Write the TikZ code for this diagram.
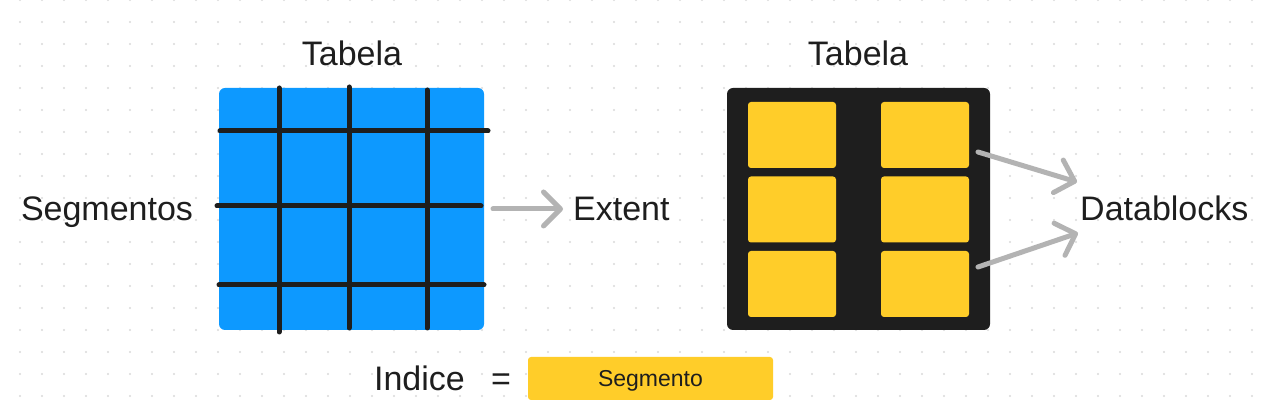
\documentclass[tikz,border=0pt]{standalone}
\usepackage{fontspec}
\setmainfont{Liberation Sans}
\usepackage{tikz}
\usetikzlibrary{arrows.meta}
\definecolor{inkdark}{HTML}{1E1E1E}
\definecolor{gridblue}{HTML}{0D99FF}
\definecolor{blockyellow}{HTML}{FFCD29}
\definecolor{arrowgray}{HTML}{B3B3B3}
\definecolor{dotgray}{HTML}{DADADA}
\tikzset{
	label/.style={inkdark,inner sep=0pt,anchor=base,font=\fontsize{34}{34}\selectfont},
	block/.style={fill=blockyellow,rounded corners=3pt,inner sep=0pt,minimum width=88pt,minimum height=66pt},
	gridline/.style={draw=inkdark,line width=5pt,line cap=round},
	flow/.style={draw=arrowgray,line width=5pt,line cap=round,
		-{Straight Barb[length=17pt,width=34pt,line cap=round,line join=round]}}
}

\begin{document}
\begin{tikzpicture}[x=1pt,y=-1pt]
	\useasboundingbox[fill=white] (0,0) rectangle (1262,411);
	\foreach \i in {0,...,56}
		\foreach \j in {0,...,18}
			\fill[dotgray] (20+22*\i,22*\j) circle (1.1pt);

	\node[fill=gridblue,rounded corners=6pt,inner sep=0pt,minimum width=265pt,minimum height=242pt] (tabela1) at (351.5,209) {};
	\node[fill=inkdark,rounded corners=6pt,inner sep=0pt,minimum width=263pt,minimum height=242pt] (tabela2) at (858.5,209) {};

	\begin{scope}[gridline]
		\draw (279,88) -- (279,332);
		\draw (349,87) -- (349,328);
		\draw (427,90) -- (427,328);
		\draw (220,131) -- (488,131);
		\draw (217,206) -- (481,206);
		\draw (219,285) -- (484,285);
	\end{scope}

	\foreach \col/\x in {a/792,b/925}
		\foreach \row/\y in {1/135,2/209.5,3/284}
			\node[block] (\col\row) at (\x,\y) {};

	\node[label] (titulo1) at (352,66) {Tabela};
	\node[label] (titulo2) at (858,66) {Tabela};
	\node[label] (segmentos) at (107,221) {Segmentos};
	\node[label,anchor=base west] (extent) at (573,220.5) {Extent};
	\node[label,anchor=base west] (datablocks) at (1080,220.5) {Datablocks};
	\node[label] (indice) at (419.5,390.5) {Indice};
	\node[label] (igual) at (501,390.5) {=};
	\node[fill=blockyellow,rounded corners=3pt,inner sep=0pt,minimum width=245pt,minimum height=43pt] (segmento) at (650.5,378.5) {};
	\node[label,font=\fontsize{23}{23}\selectfont] (segtexto) at (650.5,386.5) {Segmento};

	\coordinate (ext-de) at (493,209);
	\coordinate (ext-para) at (563,209);
	\coordinate (db-de1) at (978,152);
	\coordinate (db-para1) at (1077,182);
	\coordinate (db-de2) at (978,267);
	\coordinate (db-para2) at (1078,233);

	\draw[flow] (ext-de) -- (ext-para);
	\draw[flow] (db-de1) -- (db-para1);
	\draw[flow] (db-de2) -- (db-para2);
\end{tikzpicture}
\end{document}
